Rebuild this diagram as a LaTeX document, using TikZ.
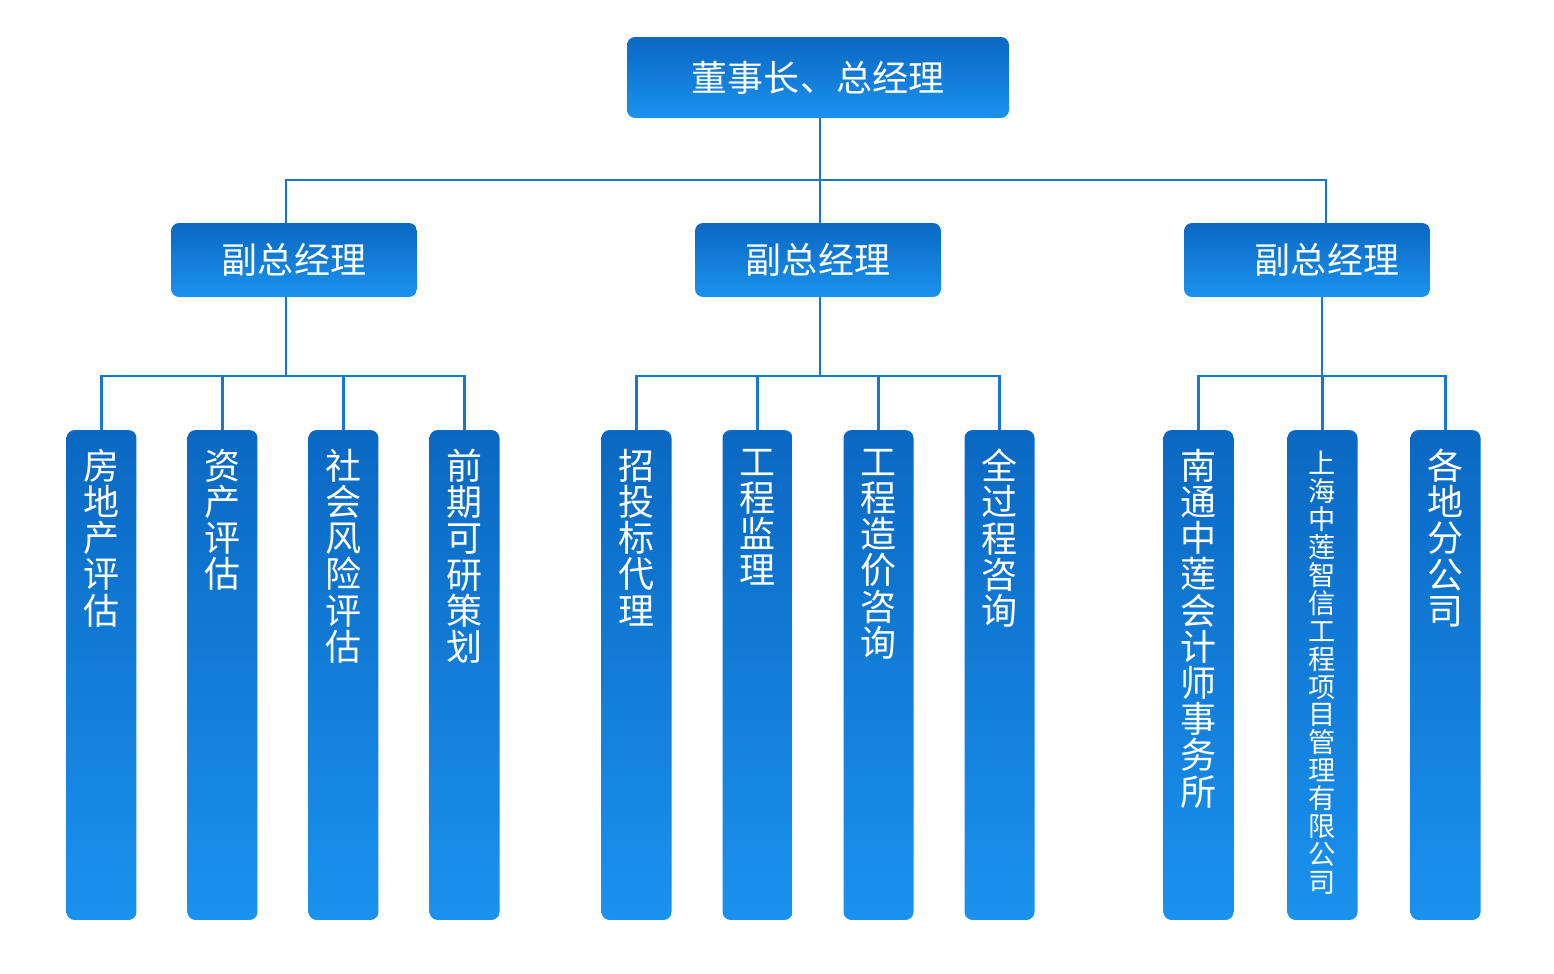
\documentclass[tikz,border=0pt]{standalone}
\usepackage{fontspec}
\usetikzlibrary{positioning}
\newfontfamily\cjk{Noto Sans CJK SC}
\definecolor{bluetop}{RGB}{10,104,194}
\definecolor{bluebot}{RGB}{26,146,238}
\definecolor{linkblue}{RGB}{22,118,210}

\begin{document}
\begin{tikzpicture}[x=0.02cm, y=-0.02cm,
    box/.style={rounded corners=0.16cm, top color=bluetop, bottom color=bluebot,
        inner sep=0pt, text=white, font=\cjk\fontsize{20.5pt}{20.5pt}\selectfont},
    head/.style={box, minimum width=4.92cm, minimum height=1.48cm},
    leaf/.style={box, minimum width=1.4cm, minimum height=9.8cm},
    vtext/.style={text=white, inner sep=0pt, align=center,
        font=\cjk\fontsize{20.5pt}{20.6pt}\selectfont},
    link/.style={draw=linkblue, line width=1.2pt}]
    \useasboundingbox (0,0) rectangle (1554,973);

    % top
    \node[box, minimum width=7.64cm, minimum height=1.62cm] (boss) at (818,77.5) {董事长、总经理};

    % deputies
    \node[head] (vpa) at (294,260) {副总经理};
    \node[head] (vpb) at (818,260) {副总经理};
    \node[head] (vpc) at (1307,260) {\hspace*{0.8cm}副总经理};

    \coordinate (bus) at (820,180);
    \coordinate (ja) at (286,180);
    \coordinate (jc) at (1326,180);
    \draw[link] (boss.south -| bus) -- (bus);
    \draw[link] (ja |- vpa.north) -- (ja) -- (jc) -- (jc |- vpc.north);
    \draw[link] (bus) -- (bus |- vpb.north);

    % departments
    \node[leaf] (a1) at (101.5,675) {};
    \node[leaf] (a2) at (222.5,675) {};
    \node[leaf] (a3) at (343.5,675) {};
    \node[leaf] (a4) at (464.5,675) {};
    \node[leaf] (b1) at (636.5,675) {};
    \node[leaf] (b2) at (757.5,675) {};
    \node[leaf] (b3) at (878.5,675) {};
    \node[leaf] (b4) at (999.5,675) {};
    \node[leaf] (c1) at (1198.5,675) {};
    \node[leaf] (c2) at (1322.5,675) {};
    \node[leaf] (c3) at (1445.5,675) {};

    \node[vtext, below=0.38cm of a1.north] (a1t) {房\\地\\产\\评\\估};
    \node[vtext, below=0.38cm of a2.north] (a2t) {资\\产\\评\\估};
    \node[vtext, below=0.38cm of a3.north] (a3t) {社\\会\\风\\险\\评\\估};
    \node[vtext, below=0.38cm of a4.north] (a4t) {前\\期\\可\\研\\策\\划};
    \node[vtext, below=0.38cm of b1.north] (b1t) {招\\投\\标\\代\\理};
    \node[vtext, below=0.38cm of b2.north] (b2t) {工\\程\\监\\理};
    \node[vtext, below=0.38cm of b3.north] (b3t) {工\\程\\造\\价\\咨\\询};
    \node[vtext, below=0.38cm of b4.north] (b4t) {全\\过\\程\\咨\\询};
    \node[vtext, below=0.38cm of c1.north] (c1t) {南\\通\\中\\莲\\会\\计\\师\\事\\务\\所};
    \node[vtext, below=0.42cm of c2.north, font=\cjk\fontsize{15.5pt}{15.9pt}\selectfont] (c2t)
        {上\\海\\中\\莲\\智\\信\\工\\程\\项\\目\\管\\理\\有\\限\\公\\司};
    \node[vtext, below=0.38cm of c3.north] (c3t) {各\\地\\分\\公\\司};

    \coordinate (ka) at (286,376);
    \coordinate (kb) at (820,376);
    \coordinate (kc) at (1322,376);
    \draw[link] (ka |- vpa.south) -- (ka);
    \draw[link] (kb |- vpb.south) -- (kb);
    \draw[link] (kc |- vpc.south) -- (kc);

    \draw[link] (a1.north) |- (ka) -| (a4.north);
    \draw[link] (a2.north) -- (a2.north |- ka);
    \draw[link] (a3.north) -- (a3.north |- ka);
    \draw[link] (b1.north) |- (kb) -| (b4.north);
    \draw[link] (b2.north) -- (b2.north |- kb);
    \draw[link] (b3.north) -- (b3.north |- kb);
    \draw[link] (c1.north) |- (kc) -| (c3.north);
    \draw[link] (c2.north) -- (c2.north |- kc);
\end{tikzpicture}
\end{document}
